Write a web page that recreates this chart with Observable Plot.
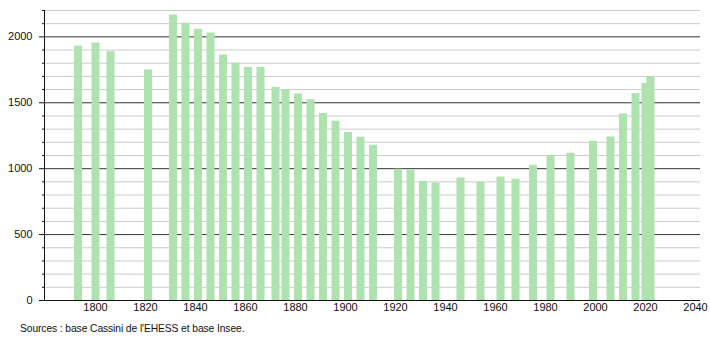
<!DOCTYPE html>
<html>
<head>
<meta charset="utf-8">
<script src="https://cdn.jsdelivr.net/npm/d3@7"></script>
<script src="https://cdn.jsdelivr.net/npm/@observablehq/plot@0.6"></script>
<style>
  html, body { margin: 0; padding: 0; background: #fff; }
  #chart { width: 710px; font-family: "Liberation Sans", Arial, sans-serif; }
  #caption { font-family: "Liberation Sans", Arial, sans-serif; font-size: 10.3px; color: #111; margin: 5px 0 0 20px; letter-spacing: -0.1px; }
</style>
</head>
<body>
<div id="chart"></div>
<div id="caption">Sources : base Cassini de l'EHESS et base Insee.</div>
<script>
const years = [1793,1800,1806,1821,1831,1836,1841,1846,1851,1856,1861,1866,1872,1876,1881,1886,1891,1896,1901,1906,1911,1921,1926,1931,1936,1946,1954,1962,1968,1975,1982,1990,1999,2006,2011,2016,2020,2022];
const population = [1930,1953,1887,1748,2166,2103,2057,2029,1862,1799,1768,1768,1616,1596,1566,1522,1419,1360,1274,1239,1178,996,988,904,892,930,897,937,920,1026,1102,1117,1208,1241,1414,1571,1647,1697];
const xTickLabels = [1800,1820,1840,1860,1880,1900,1920,1940,1960,1980,2000,2020,2040];
const yMajorTicks = [0,500,1000,1500,2000];
const yMinorTicks = [100,200,300,400,600,700,800,900,1100,1200,1300,1400,1600,1700,1800,1900,2100,2200];

const data = years.map((y, i) => ({year: y, pop: population[i]}));
const xDomain = [1779.6, 2042];

const chart = Plot.plot({
  width: 710,
  height: 318,
  marginLeft: 44,
  marginRight: 10,
  marginTop: 10,
  marginBottom: 18,
  style: {fontFamily: "'Liberation Sans', Arial, sans-serif", fontSize: "11px", color: "#111", background: "#fff"},
  x: {domain: xDomain, type: "linear"},
  y: {domain: [0, 2200]},
  marks: [
    Plot.ruleY(yMinorTicks, {stroke: "#cccccc", strokeWidth: 1}),
    Plot.ruleY(yMajorTicks, {stroke: "#333", strokeWidth: 1}),
    Plot.ruleX(data, {x: "year", y1: 0, y2: "pop", stroke: "#aee2ae", strokeWidth: 8}),
    Plot.ruleX([xDomain[0]], {y1: 0, y2: 2200, stroke: "#111", strokeWidth: 1}),
    Plot.ruleY([0], {stroke: "#111", strokeWidth: 1}),
    Plot.axisY(yMajorTicks, {tickSize: 5, tickPadding: 7, stroke: "#111", tickFormat: d => String(d), label: null}),
    Plot.axisY(yMinorTicks, {tickSize: 2, tickPadding: 0, stroke: "#111", tickFormat: () => "", label: null}),
    Plot.axisX(xTickLabels, {tickSize: 0, tickPadding: 3, tickFormat: d => String(d), label: null})
  ]
});
document.getElementById("chart").appendChild(chart);
</script>
</body>
</html>
